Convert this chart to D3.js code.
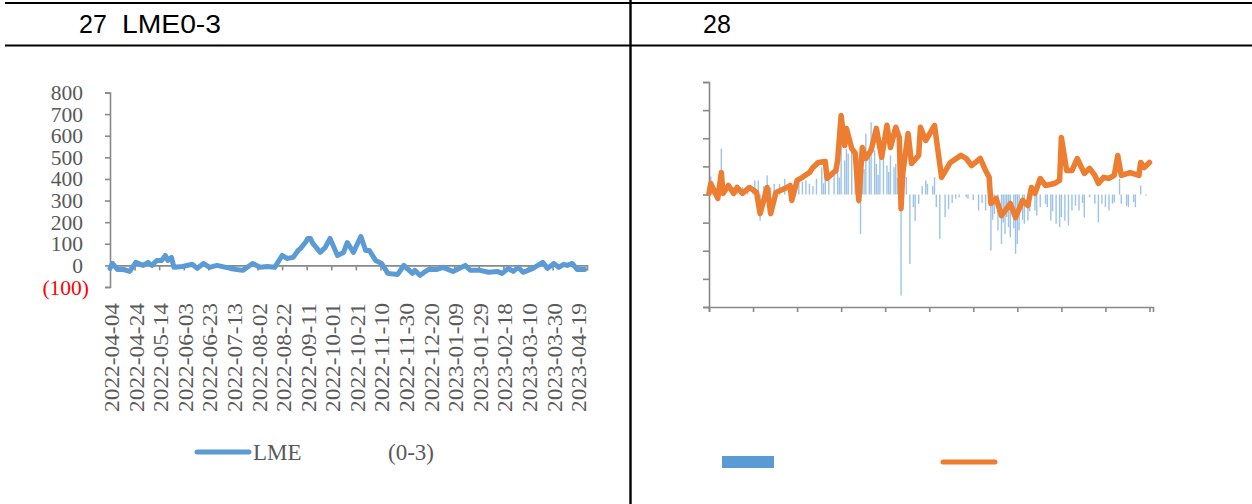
<!DOCTYPE html>
<html>
<head>
<meta charset="utf-8">
<script src="https://cdn.jsdelivr.net/npm/d3@7"></script>
<style>
  html, body { margin: 0; padding: 0; background: #fff; }
  svg { display: block; }
  .serif { font-family: "Times New Roman", "Liberation Serif", serif; }
</style>
</head>
<body>
<svg id="chart" width="1252" height="504"></svg>
<script>
// ===================================
// Data
// ===================================

// Figure 27: LME 0-3 spread (date, value)
const spreadDates = [
  '2022-04-04', '2022-04-06', '2022-04-10', '2022-04-15', '2022-04-20', '2022-04-25',
  '2022-05-01', '2022-05-05', '2022-05-08', '2022-05-12', '2022-05-16', '2022-05-19',
  '2022-05-21', '2022-05-24', '2022-05-26', '2022-06-02', '2022-06-10', '2022-06-14',
  '2022-06-19', '2022-06-24', '2022-06-30', '2022-07-11', '2022-07-16', '2022-07-21',
  '2022-07-29', '2022-08-04', '2022-08-10', '2022-08-16', '2022-08-22', '2022-08-26',
  '2022-08-31', '2022-09-04', '2022-09-06', '2022-09-10', '2022-09-12', '2022-09-14',
  '2022-09-16', '2022-09-22', '2022-09-26', '2022-09-30', '2022-10-06', '2022-10-11',
  '2022-10-14', '2022-10-19', '2022-10-25', '2022-10-29', '2022-11-01', '2022-11-06',
  '2022-11-11', '2022-11-16', '2022-11-24', '2022-11-29', '2022-12-06', '2022-12-08',
  '2022-12-12', '2022-12-19', '2022-12-26', '2022-12-31', '2023-01-08', '2023-01-18',
  '2023-01-22', '2023-01-30', '2023-02-06', '2023-02-13', '2023-02-17', '2023-02-22',
  '2023-02-26', '2023-03-02', '2023-03-06', '2023-03-14', '2023-03-22', '2023-03-26',
  '2023-03-31', '2023-04-04', '2023-04-08', '2023-04-11', '2023-04-15', '2023-04-19',
  '2023-04-25',
];
const spreadValues = [
  -14, 9, -19, -19, -28, 14,
  0, 14, 0, 23, 23, 46,
  23, 37, -9, -5, 5, -14,
  9, -9, 0, -14, -19, -23,
  9, -9, -5, -9, 46, 32,
  37, 69, 79, 106, 125, 125,
  102, 60, 83, 125, 46, 60,
  106, 60, 134, 69, 69, 23,
  9, -37, -42, 0, -37, -23,
  -46, -19, -19, -9, -28, 0,
  -23, -23, -32, -28, -37, -14,
  -28, -9, -32, -14, 14, -14,
  9, -9, 5, 0, 9, -19,
  -19,
];
const leftTicks = [800, 700, 600, 500, 400, 300, 200, 100, 0, -100];
const dateLabels = [
  '2022-04-04', '2022-04-24', '2022-05-14', '2022-06-03', '2022-06-23',
  '2022-07-13', '2022-08-02', '2022-08-22', '2022-09-11', '2022-10-01',
  '2022-10-21', '2022-11-10', '2022-11-30', '2022-12-20', '2023-01-09',
  '2023-01-29', '2023-02-18', '2023-03-10', '2023-03-30', '2023-04-19',
];

// Figure 28: daily change bars and level line (trading day, value)
const barDays = [
  1, 2, 7, 8, 14, 16, 19, 22, 25, 26, 28, 29, 31, 33, 35, 37, 40, 43, 46, 48,
  51, 53, 55, 57, 59, 61, 64, 65, 66, 68, 71, 73, 74, 75, 77, 78, 79, 81, 83, 85,
  86, 87, 88, 89, 91, 92, 94, 95, 96, 97, 99, 101, 102, 103, 105, 106, 107, 109, 110, 112,
  114, 116, 117, 119, 121, 123, 124, 127, 128, 129, 131, 134, 136, 138, 140, 142, 146, 147, 150, 153,
  155, 157, 160, 161, 162, 164, 166, 167, 168, 169, 170, 171, 173, 174, 175, 176, 178, 179, 181, 182,
  185, 186, 188, 191, 192, 194, 195, 197, 199, 200, 202, 204, 206, 208, 210, 212, 213, 216, 219, 221,
  223, 225, 227, 229, 230, 233, 234, 237, 238, 241, 242, 245, 248,
];
const barValues = [
  64, 30, 163, 38, 26, 20, 26, 18, 26, 50, 50, -93, 30, 68, 25, 38, 38, 56, 38, 30,
  50, 45, 50, 38, 30, 56, 96, 40, 68, 50, 85, 109, 60, 216, 121, 163, 145, 168, 133, -33,
  -140, 139, 90, 216, 168, 257, 157, 109, 70, 145, 204, 103, 80, 139, 97, 109, 60, -359, 50, 62,
  -247, -45, -93, -33, 30, 50, 38, 30, 62, -45, -158, -81, -51, -30, -15, -10, -10, -15, -20, -57,
  -30, -57, -199, -90, -69, -128, -176, -100, -140, -80, -116, -152, -120, -211, -176, -128, -90, -104, -93, -60,
  -57, -75, -45, -33, -45, -93, -60, -104, -116, -80, -93, -110, -57, -40, -57, -30, -81, -10, -33, -99,
  -33, -45, -57, -33, -27, 56, -33, -40, -45, -27, -45, 32, -4,
];
const lineDays = [
  0, 1, 5, 7, 8, 11, 14, 16, 19, 23, 27, 29, 33, 35, 38, 43, 46, 47, 50, 53,
  57, 59, 62, 66, 67, 70, 72, 73, 75, 77, 78, 81, 83, 85, 87, 89, 92, 95, 98, 101,
  103, 106, 108, 109, 110, 113, 115, 119, 120, 123, 128, 132, 137, 143, 146, 149, 154, 157, 159, 160,
  163, 166, 171, 174, 178, 181, 183, 185, 188, 191, 196, 199, 200, 203, 206, 209, 213, 216, 219, 221,
  224, 227, 230, 232, 234, 239, 244, 245, 247, 250,
];
const lineValues = [
  4, 39, -14, 78, 4, 32, 4, 25, 4, 25, 7, -68, 25, -68, 7, 21, 32, -21, 50, 61,
  78, 96, 114, 117, 57, 75, 85, 121, 281, 174, 235, 164, 146, -21, 167, 128, 157, 235, 132, 246,
  167, 239, 203, -50, 75, 217, 110, 139, 239, 192, 246, 61, 114, 139, 128, 103, 128, 85, 61, -32,
  -14, -75, -32, -82, -21, -39, 25, 4, 57, 32, 39, 50, 203, 85, 85, 128, 75, 93, 68, 39,
  61, 57, 68, 139, 68, 78, 68, 114, 96, 114,
];
const rightTicks = [-400, -300, -200, -100, 0, 100, 200, 300, 400];
const rightXTicks = [0, 25, 50, 75, 100, 125, 150, 175, 200, 225, 250];

// ===================================
// Drawing
// ===================================

const svg = d3.select('#chart');
const parseDate = d3.timeParse('%Y-%m-%d');
const AXIS = '#898989';
const TEXT = '#595959';
const BLUE = '#5B9BD5';
const ORANGE = '#ED7D31';

// table frame
svg.append('line').attr('x1', 5).attr('x2', 1252).attr('y1', 3).attr('y2', 3)
  .attr('stroke', '#000').attr('stroke-width', 2.2);
svg.append('line').attr('x1', 5).attr('x2', 1252).attr('y1', 45.5).attr('y2', 45.5)
  .attr('stroke', '#000').attr('stroke-width', 2.2);
svg.append('line').attr('x1', 630.5).attr('x2', 630.5).attr('y1', 0).attr('y2', 504)
  .attr('stroke', '#000').attr('stroke-width', 2.4);

const titleFont = '"Liberation Sans", Arial, sans-serif';
svg.append('text').attr('x', 79).attr('y', 33).attr('font-family', titleFont)
  .attr('font-size', 25).text('27');
svg.append('text').attr('x', 122).attr('y', 33).attr('font-family', titleFont)
  .attr('font-size', 25).attr('textLength', 99).attr('lengthAdjust', 'spacingAndGlyphs')
  .text('LME0-3');
svg.append('text').attr('x', 703).attr('y', 33).attr('font-family', titleFont)
  .attr('font-size', 25).text('28');

// ---------- left chart ----------
const xL = d3.scaleTime()
  .domain([parseDate('2022-04-04'), parseDate('2023-04-27')])
  .range([110, 587]);
const yL = d3.scaleLinear().domain([-100, 800]).range([287, 92.5]);

const left = svg.append('g');

// y axis
const yAxisL = left.append('g').attr('transform', 'translate(110,0)')
  .call(d3.axisLeft(yL).tickValues(leftTicks).tickSize(5).tickFormat(''));
yAxisL.select('.domain').attr('stroke', AXIS).attr('stroke-width', 1.6);
yAxisL.selectAll('.tick line').attr('stroke', AXIS).attr('stroke-width', 1.6);

left.selectAll('.ylab').data(leftTicks).join('text')
  .attr('class', 'serif ylab')
  .attr('x', (d) => (d < 0 ? 89 : 83))
  .attr('y', (d) => yL(d))
  .attr('dy', '0.35em')
  .attr('text-anchor', 'end')
  .attr('font-size', 21.5)
  .attr('fill', (d) => (d < 0 ? '#FF0000' : TEXT))
  .text((d) => (d < 0 ? `(${-d})` : d));

// x axis at zero
const xAxisL = left.append('g').attr('transform', `translate(0,${yL(0)})`)
  .call(d3.axisBottom(xL).tickValues(dateLabels.map(parseDate)).tickSize(5).tickFormat(''));
xAxisL.select('.domain').attr('stroke', AXIS).attr('stroke-width', 1.6);
xAxisL.selectAll('.tick line').attr('stroke', AXIS).attr('stroke-width', 1.6);

left.selectAll('.xlab').data(dateLabels).join('text')
  .attr('class', 'serif xlab')
  .attr('transform', (d) => `translate(${xL(parseDate(d)) + 2},303) rotate(-90)`)
  .attr('dy', '0.35em')
  .attr('text-anchor', 'end')
  .attr('font-size', 20)
  .attr('fill', TEXT)
  .attr('textLength', 109)
  .attr('lengthAdjust', 'spacingAndGlyphs')
  .text((d) => d);

const spread = spreadDates.map((d, i) => ({ date: parseDate(d), value: spreadValues[i] }));
left.append('path')
  .datum(spread)
  .attr('fill', 'none')
  .attr('stroke', BLUE)
  .attr('stroke-width', 5)
  .attr('stroke-linejoin', 'round')
  .attr('stroke-linecap', 'round')
  .attr('d', d3.line().x((d) => xL(d.date)).y((d) => yL(d.value)));

// legend
left.append('line').attr('x1', 197).attr('x2', 249).attr('y1', 452).attr('y2', 452)
  .attr('stroke', BLUE).attr('stroke-width', 5).attr('stroke-linecap', 'round');
left.append('text').attr('class', 'serif').attr('x', 253).attr('y', 460)
  .attr('font-size', 23).attr('fill', TEXT).text('LME');
left.append('text').attr('class', 'serif').attr('x', 388).attr('y', 460)
  .attr('font-size', 23).attr('fill', TEXT).text('(0-3)');

// ---------- right chart ----------
const xR = d3.scaleLinear().domain([0, 252]).range([709, 1153]);
const yR = d3.scaleLinear().domain([-400, 400]).range([307, 82]);

const right = svg.append('g');

const yAxisR = right.append('g').attr('transform', 'translate(709,0)')
  .call(d3.axisLeft(yR).tickValues(rightTicks).tickSize(6).tickFormat(''));
yAxisR.select('.domain').attr('stroke', AXIS).attr('stroke-width', 1.6);
yAxisR.selectAll('.tick line').attr('stroke', AXIS).attr('stroke-width', 1.6);

const bars = barDays.map((d, i) => ({ day: d, value: barValues[i] }));
right.selectAll('.bar').data(bars).join('rect')
  .attr('class', 'bar')
  .attr('x', (d) => xR(d.day) - 0.7)
  .attr('width', 1.4)
  .attr('y', (d) => yR(Math.max(0, d.value)))
  .attr('height', (d) => Math.abs(yR(d.value) - yR(0)))
  .attr('fill', BLUE)
  .attr('opacity', 0.6);

const xAxisR = right.append('g').attr('transform', `translate(0,${yR(-400)})`)
  .call(d3.axisBottom(xR).tickValues(rightXTicks).tickSize(5).tickFormat(''));
xAxisR.select('.domain').attr('stroke', AXIS).attr('stroke-width', 1.6);
xAxisR.selectAll('.tick line').attr('stroke', AXIS).attr('stroke-width', 1.6);

const level = lineDays.map((d, i) => ({ day: d, value: lineValues[i] }));
right.append('path')
  .datum(level)
  .attr('fill', 'none')
  .attr('stroke', ORANGE)
  .attr('stroke-width', 5.5)
  .attr('stroke-linejoin', 'round')
  .attr('stroke-linecap', 'round')
  .attr('d', d3.line().x((d) => xR(d.day)).y((d) => yR(d.value)));

// legend
right.append('rect').attr('x', 722).attr('y', 456).attr('width', 52).attr('height', 12)
  .attr('fill', BLUE);
right.append('line').attr('x1', 943).attr('x2', 995).attr('y1', 462).attr('y2', 462)
  .attr('stroke', ORANGE).attr('stroke-width', 5).attr('stroke-linecap', 'round');
</script>
</body>
</html>
